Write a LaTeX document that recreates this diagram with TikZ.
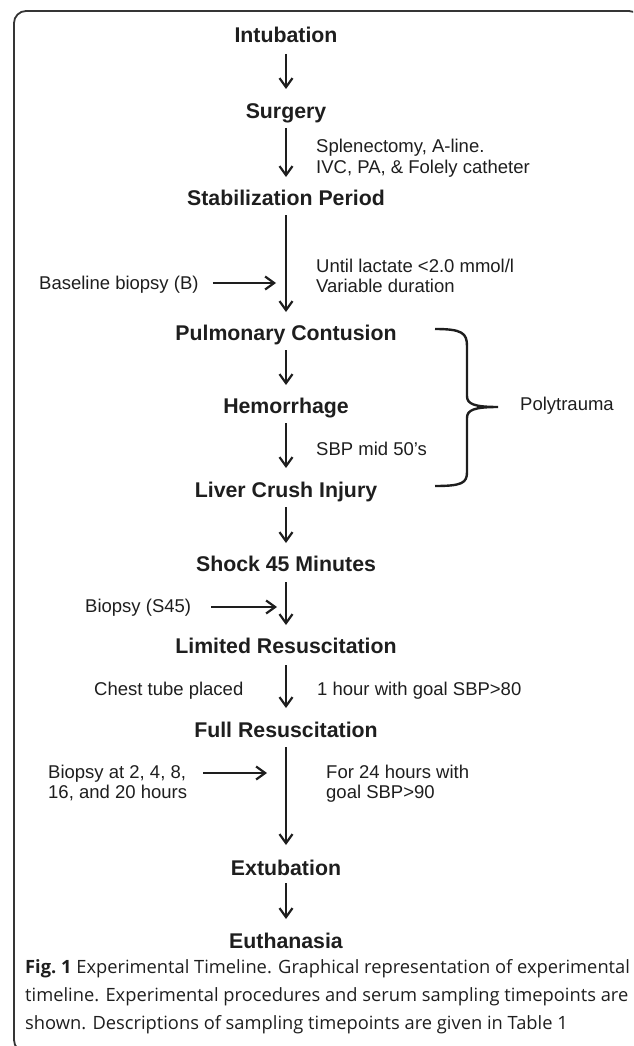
\documentclass[tikz,border=0pt]{standalone}
\usepackage{fontspec}
\setmainfont{Liberation Sans}
\newfontfamily\capfont{Open Sans}
\usetikzlibrary{arrows.meta}
\definecolor{ink}{HTML}{1E1E1E}
\newcommand{\twol}[2]{\begin{tabular}[t]{@{}l@{}}#1\\#2\end{tabular}}
\newcommand{\threel}[3]{\begin{tabular}[t]{@{}l@{}}#1\\#2\\#3\end{tabular}}
\begin{document}
\begin{tikzpicture}[x=1pt,y=-1pt,
  stage/.style={font=\fontsize{21.3}{25}\selectfont\bfseries, anchor=base, inner sep=0pt, text=ink},
  note/.style={font=\fontsize{18.5}{20.5}\selectfont, anchor=base west, inner sep=0pt, text=ink},
  capnode/.style={font=\capfont\fontsize{18.3}{28}\selectfont, anchor=base west, inner sep=0pt, text=ink},
  flow/.style={draw=ink, line width=2.4pt, -{Straight Barb[length=9pt,width=13pt,line width=2.2pt]}},
  bracestyle/.style={draw=ink, line width=2.4pt}]
\useasboundingbox (0,0) rectangle (633,1046);
\begin{scope}
  \clip (0,0) rectangle (633,1046);
  \draw[draw=ink!90, line width=1.8pt, rounded corners=12pt] (14,11) rectangle (641,1052);
\end{scope}

% main stages
\node[stage] (intub) at (286,43) {Intubation};
\node[stage] (surg) at (286,118) {Surgery};
\node[stage] (stab) at (286,205) {Stabilization Period};
\node[stage] (pulm) at (286,340) {Pulmonary Contusion};
\node[stage] (hem) at (286,413) {Hemorrhage};
\node[stage] (liver) at (286,497) {Liver Crush Injury};
\node[stage] (shock) at (286,571) {Shock 45 Minutes};
\node[stage] (ltd) at (286,653) {Limited Resuscitation};
\node[stage] (full) at (286,737) {Full Resuscitation};
\node[stage] (extu) at (286,875) {Extubation};
\node[stage] (euth) at (286,948) {Euthanasia};

% vertical connectors
\draw[flow] ([yshift=-11pt]intub.base) -- ([yshift=29pt]surg.base);
\draw[flow] ([yshift=-10pt]surg.base) -- ([yshift=28pt]stab.base);
\draw[flow] ([yshift=-10pt]stab.base) -- ([yshift=28pt]pulm.base);
\draw[flow] ([yshift=-10pt]pulm.base) -- ([yshift=28pt]hem.base);
\draw[flow] ([yshift=-10pt]hem.base) -- ([yshift=29pt]liver.base);
\draw[flow] ([yshift=-10pt]liver.base) -- ([yshift=28pt]shock.base);
\draw[flow] ([yshift=-11pt]shock.base) -- ([yshift=28pt]ltd.base);
\draw[flow] ([yshift=-12pt]ltd.base) -- ([yshift=29pt]full.base);
\draw[flow] ([yshift=-10pt]full.base) -- ([yshift=30pt]extu.base);
\draw[flow] ([yshift=-8pt]extu.base) -- ([yshift=29pt]euth.base);

% side notes
\node[note] (spl) at (316,153) {\twol{Splenectomy, A-line.}{IVC, PA, \& Folely catheter}};
\node[note] (lact) at (316,272) {\twol{Until lactate <2.0 mmol/l}{Variable duration}};
\node[note] (bb) at (39,289) {Baseline biopsy (B)};
\node[note] (sbp) at (316,455) {SBP mid 50’s};
\node[note] (poly) at (520,410) {Polytrauma};
\node[note] (s45) at (85,612) {Biopsy (S45)};
\node[note] (chest) at (94,695) {Chest tube placed};
\node[note] (hour) at (317,695) {1 hour with goal SBP>80};
\node[note] (b24) at (48,778) {\twol{Biopsy at 2, 4, 8,}{16, and 20 hours}};
\node[note] (f24) at (326,778) {\twol{For 24 hours with}{goal SBP>90}};

% horizontal connectors (biopsies)
\coordinate (bbtip) at (276,283);
\coordinate (s45tip) at (277,607);
\coordinate (b24tip) at (267,773);
\draw[flow] ([shift={(14,-6)}]bb.base east) -- (bbtip);
\draw[flow] ([shift={(20,-5)}]s45.base east) -- (s45tip);
\draw[flow] ([shift={(16,-5)}]b24.base east) -- (b24tip);

% polytrauma brace
\coordinate (btip) at (498,407);
\draw[bracestyle] (435,329) .. controls (462,329) and (467,333) .. (467,346)
  -- (467,396) .. controls (467,404) and (474,407) .. (btip)
  .. controls (474,407) and (467,410) .. (467,418)
  -- (467,472) .. controls (467,483) and (462,486) .. (435,486);

% caption
\node[capnode] (cap) at (25,973) {\threel{{\bfseries Fig.~1} Experimental Timeline. Graphical representation of experimental}{timeline. Experimental procedures and serum sampling timepoints are}{shown. Descriptions of sampling timepoints are given in Table 1}};
\end{tikzpicture}
\end{document}
